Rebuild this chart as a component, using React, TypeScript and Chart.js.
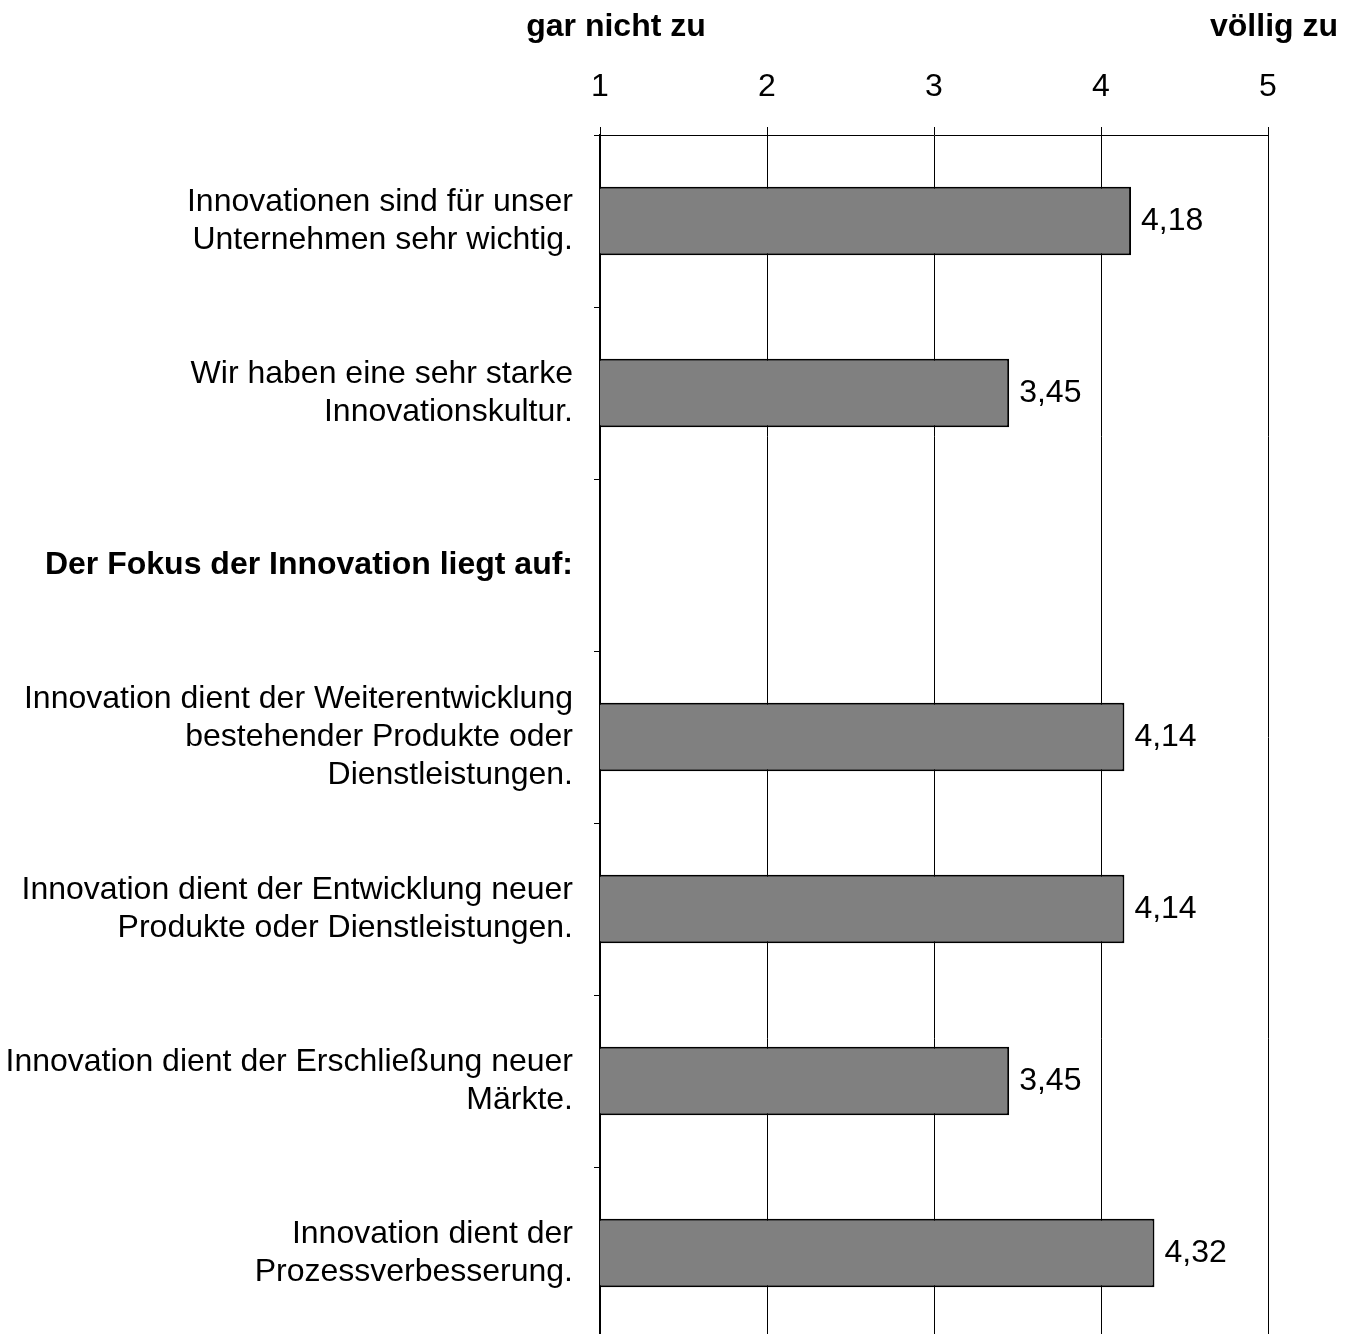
import React, { useEffect, useRef } from "react";
import { Chart, registerables } from "chart.js";

Chart.register(...registerables);

const categories: (string | string[])[] = [
  ["Innovationen sind für unser", "Unternehmen sehr wichtig."],
  ["Wir haben eine sehr starke", "Innovationskultur."],
  "Der Fokus der Innovation liegt auf:",
  ["Innovation dient der Weiterentwicklung", "bestehender Produkte oder", "Dienstleistungen."],
  ["Innovation dient der Entwicklung neuer", "Produkte oder Dienstleistungen."],
  ["Innovation dient der Erschließung neuer", "Märkte."],
  ["Innovation dient der", "Prozessverbesserung."],
];
const values: (number | null)[] = [4.18, 3.45, null, 4.14, 4.14, 3.45, 4.32];
const headingIndex = 2;
const xMin = 1;
const xMax = 5;
const headerLeft = "gar nicht zu";
const headerRight = "völlig zu";

const FONT = "'Liberation Sans', Arial, sans-serif";
const SIZE = 32;

const fmt = (v: number) => v.toFixed(2).replace(".", ",");

export default function App() {
  const ref = useRef<HTMLCanvasElement | null>(null);

  useEffect(() => {
    document.body.style.margin = "0";
    document.documentElement.style.overflow = "hidden";
    if (!ref.current) return;

    const labelPlugin = {
      id: "valueLabels",
      afterDatasetsDraw(chart: any) {
        const ctx = chart.ctx;
        const meta = chart.getDatasetMeta(0);
        ctx.save();
        ctx.font = `${SIZE}px ${FONT}`;
        ctx.fillStyle = "#000";
        ctx.textAlign = "left";
        ctx.textBaseline = "middle";
        meta.data.forEach((bar: any, i: number) => {
          const v = values[i];
          if (v == null) return;
          ctx.fillText(fmt(v), bar.x + 10, bar.y);
        });
        ctx.restore();
      },
    };

    const headerPlugin = {
      id: "headers",
      afterDraw(chart: any) {
        const ctx = chart.ctx;
        const area = chart.chartArea;
        ctx.save();
        ctx.font = `bold ${SIZE}px ${FONT}`;
        ctx.fillStyle = "#000";
        ctx.textBaseline = "middle";
        ctx.textAlign = "center";
        ctx.fillText(headerLeft, area.left + 16, 27);
        ctx.textAlign = "right";
        ctx.fillText(headerRight, chart.width - 17, 27);
        ctx.restore();
      },
    };

    const chart = new Chart(ref.current, {
      type: "bar",
      data: {
        labels: categories as any,
        datasets: [
          {
            data: values as any,
            backgroundColor: "#808080",
            borderColor: "#000",
            borderWidth: 2,
            borderSkipped: false,
            categoryPercentage: 1,
            barPercentage: 0.398,
          },
        ],
      },
      options: {
        indexAxis: "y",
        animation: false,
        responsive: true,
        maintainAspectRatio: false,
        layout: { padding: { left: 0, right: 87, top: 0, bottom: 0 } },
        plugins: {
          legend: { display: false },
          tooltip: { enabled: false },
        },
        scales: {
          x: {
            position: "top",
            min: xMin,
            max: xMax,
            ticks: {
              stepSize: 1,
              color: "#000",
              font: { family: FONT, size: SIZE },
              padding: 21,
            },
            grid: {
              color: "#000",
              lineWidth: 1,
              tickLength: 8,
              drawOnChartArea: true,
            },
            border: { display: true, color: "#000", width: 1 },
            afterFit: (scale: any) => {
              scale.height = 135;
              scale.paddingLeft = 0;
              scale.paddingRight = 0;
            },
          },
          y: {
            type: "category",
            offset: true,
            ticks: {
              color: "#000",
              padding: 21,
              font: (c: any) => ({
                family: FONT,
                size: SIZE,
                weight: c.index === headingIndex ? "bold" : "normal",
                lineHeight: 1.19,
              }),
            },
            grid: {
              offset: true,
              drawOnChartArea: false,
              color: "#000",
              tickLength: 6,
            },
            border: { display: true, color: "#000", width: 2 },
            afterFit: (scale: any) => {
              scale.width = 600;
              scale.paddingTop = 0;
              scale.paddingBottom = 0;
            },
          },
        },
      } as any,
      plugins: [labelPlugin, headerPlugin],
    });

    return () => chart.destroy();
  }, []);

  return (
    <div style={{ width: 1355, height: 1334, overflow: "hidden" }}>
      <div style={{ width: 1355, height: 1339, position: "relative" }}>
        <canvas ref={ref} />
      </div>
    </div>
  );
}
